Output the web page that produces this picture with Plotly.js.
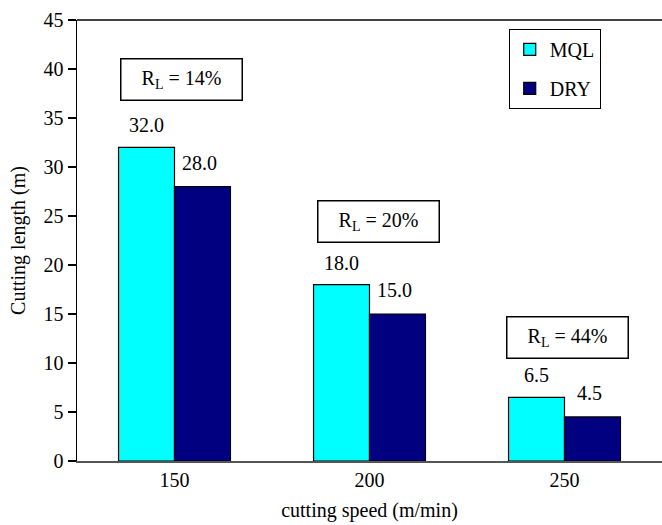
<!DOCTYPE html>
<html><head><meta charset="utf-8">
<script src="https://cdn.plot.ly/plotly-3.0.1.min.js"></script>
<style>body{margin:0;background:#fff}#c{width:662px;height:525px}</style>
</head><body><div id="c"></div>
<script>
const speeds = ['150', '200', '250'];
const mql = [32.0, 18.0, 6.5];
const dry = [28.0, 15.0, 4.5];
const ratios = ['14%', '20%', '44%'];
const seriesNames = ['MQL', 'DRY'];

const FONT = 'Liberation Serif, Times New Roman, serif';
const traces = [
  {type:'bar', name:seriesNames[0], x:speeds, y:mql, legendgroup:'a',
   marker:{color:'#00FFFF', line:{color:'#000', width:1.2}}},
  {type:'bar', name:seriesNames[1], x:speeds, y:dry, legendgroup:'b',
   marker:{color:'#000080', line:{color:'#000', width:1.2}}}
];

const ann = [];
speeds.forEach((s, i) => {
  ann.push({x:i, y:mql[i], xref:'x', yref:'y', text:mql[i].toFixed(1), showarrow:false,
    xshift:-28, yshift:22, font:{family:FONT, size:20, color:'#000'}});
  ann.push({x:i, y:dry[i], xref:'x', yref:'y', text:dry[i].toFixed(1), showarrow:false,
    xshift:25, yshift:24, font:{family:FONT, size:20, color:'#000'}});
});
const boxY = [38.9, 24.4, 12.65];
const boxDx = [7, 9, 3];
speeds.forEach((s, i) => {
  ann.push({x:i, y:boxY[i], xref:'x', yref:'y', text:'R<sub>L</sub> = ' + ratios[i],
    showarrow:false, xshift:boxDx[i], width:112, height:32, borderpad:4,
    bordercolor:'#000', borderwidth:1.5, bgcolor:'#fff',
    font:{family:FONT, size:20, color:'#000'}});
});

const layout = {
  width:662, height:525,
  margin:{l:77, r:0, t:20, b:64},
  paper_bgcolor:'#fff', plot_bgcolor:'#fff',
  font:{family:FONT, size:20, color:'#000'},
  barmode:'group', bargap:0.426, bargroupgap:0,
  showlegend:true,
  legend:{x:0.738, y:0.98, xanchor:'left', yanchor:'top',
    bordercolor:'#000', borderwidth:1, bgcolor:'#fff',
    traceorder:'grouped', tracegroupgap:10, entrywidth:80,
    font:{family:FONT, size:20, color:'#000'}},
  xaxis:{type:'category', range:[-0.5, 2.5], autorange:false,
    showline:true, linecolor:'#555', linewidth:1.5,
    ticks:'', showgrid:false, zeroline:false,
    tickfont:{family:FONT, size:20},
    title:{text:'cutting speed (m/min)', font:{family:FONT, size:20}, standoff:13}},
  yaxis:{range:[0,45], autorange:false, dtick:5, showline:true, linecolor:'#000', linewidth:1.5,
    ticks:'outside', ticklen:8, tickcolor:'#000', tickwidth:1.2,
    showgrid:false, zeroline:false,
    tickfont:{family:FONT, size:20},
    title:{text:'Cutting length (m)', font:{family:FONT, size:20}, standoff:12}},
  shapes:[{type:'line', xref:'paper', yref:'paper', x0:0, x1:1, y0:1, y1:1,
    line:{color:'#000', width:1.5}}],
  annotations:ann
};
Plotly.newPlot('c', traces, layout, {displayModeBar:false, staticPlot:true});
</script></body></html>
